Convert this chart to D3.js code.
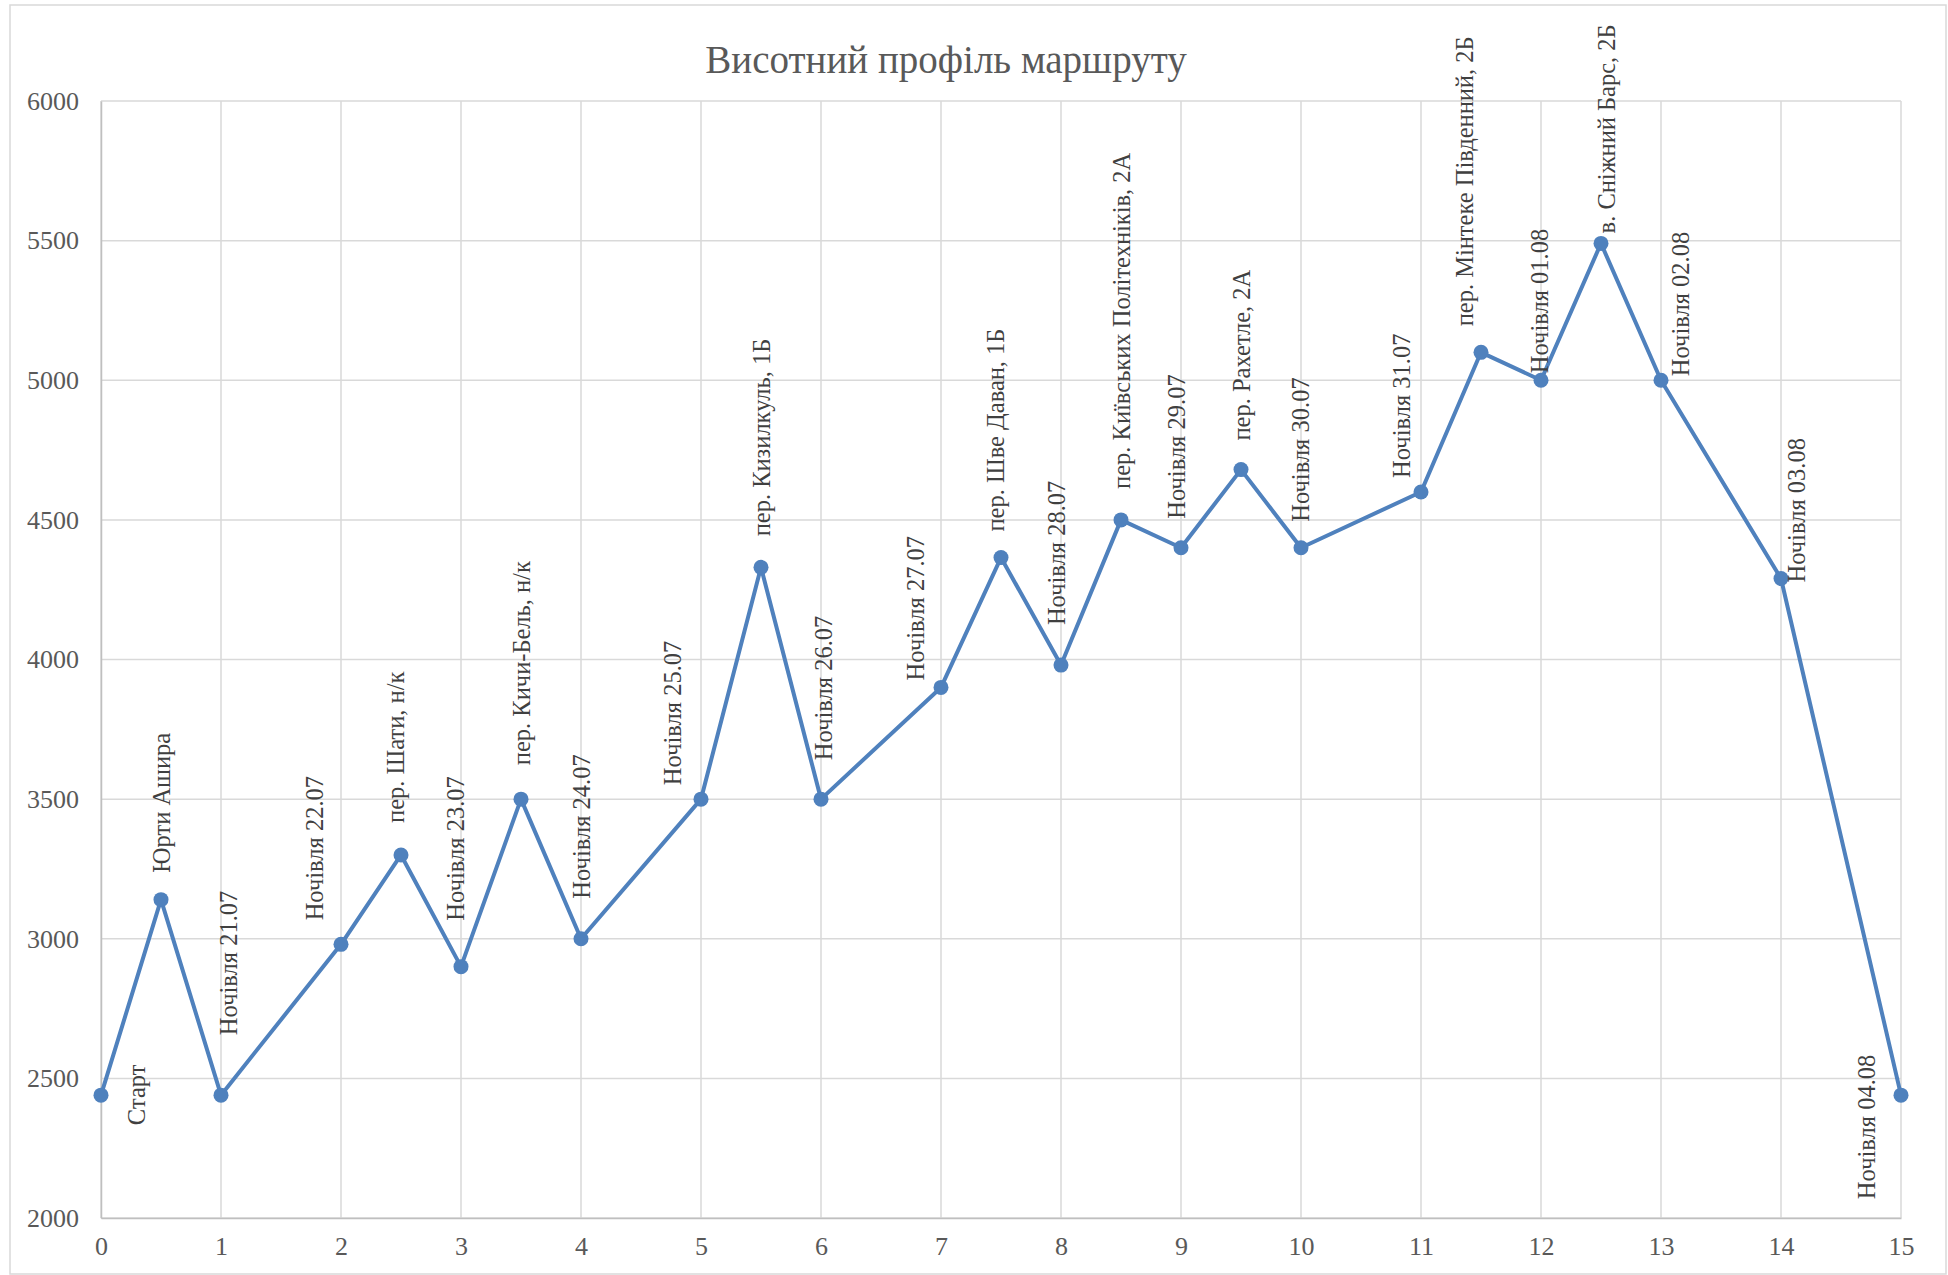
<!DOCTYPE html>
<html>
<head>
<meta charset="utf-8">
<script src="https://cdn.jsdelivr.net/npm/d3@7"></script>
<style>
  body { margin: 0; background: #fff; }
  svg text { font-family: 'Liberation Serif', 'DejaVu Serif', serif; }
</style>
</head>
<body>
<svg id="chart"></svg>
<script>
// route profile data
const dayPos = [0, 0.5, 1, 2, 2.5, 3, 3.5, 4, 5, 5.5, 6, 7, 7.5, 8, 8.5, 9, 9.5, 10, 11, 11.5, 12, 12.5, 13, 14, 15]
const altitude = [2440, 3140, 2440, 2980, 3300, 2900, 3500, 3000, 3500, 4330, 3500, 3900, 4365, 3980, 4500, 4400, 4680, 4400, 4600, 5100, 5000, 5490, 5000, 4290, 2440]
const pointNames = [
  'Старт', 'Юрти Ашира', 'Ночівля 21.07', 'Ночівля 22.07', 'пер. Шати, н/к',
  'Ночівля 23.07', 'пер. Кичи-Бель, н/к', 'Ночівля 24.07', 'Ночівля 25.07',
  'пер. Кизилкуль, 1Б', 'Ночівля 26.07', 'Ночівля 27.07', 'пер. Шве Даван, 1Б',
  'Ночівля 28.07', 'пер. Київських Політехніків, 2А', 'Ночівля 29.07',
  'пер. Рахетле, 2А', 'Ночівля 30.07', 'Ночівля 31.07', 'пер. Мінтеке Південний, 2Б',
  'Ночівля 01.08', 'в. Сніжний Барс, 2Б', 'Ночівля 02.08', 'Ночівля 03.08', 'Ночівля 04.08'
]
const xTicks = d3.range(0, 16)
const yTicks = [2000, 2500, 3000, 3500, 4000, 4500, 5000, 5500, 6000]
const title = 'Висотний профіль маршруту'

// label nudges (dx, gap above point), hand placed like in the original sheet
const labelNudge = [
  [35, -30], [0, 27], [7, 60], [-27, 24], [-6, 32], [-6, 46], [0, 34], [0, 40],
  [-29, 14], [0, 31], [2, 39], [-26, 7], [-6, 26], [-5, 40], [0, 31], [-5, 29],
  [0, 29], [-1, 26], [-20, 14], [-17, 26], [-2, 7], [5, 10], [19, 4], [15, -4], [-35, -104]
]

var width = 1948,
  height = 1275,
  margin = { top: 101, right: 47, bottom: 57, left: 101 }

var svg = d3.select('#chart').attr('width', width).attr('height', height)

svg.append('rect')
  .attr('x', 10).attr('y', 5)
  .attr('width', width - 12).attr('height', height - 6)
  .attr('fill', '#fff')
  .attr('stroke', '#d9d9d9')
  .attr('stroke-width', 1.5)

var x = d3.scaleLinear().domain([0, 15]).range([margin.left, width - margin.right])
var y = d3.scaleLinear().domain([2000, 6000]).range([height - margin.bottom, margin.top])

// grid
var grid = svg.append('g')
grid.selectAll('.hgrid')
  .data(yTicks)
  .enter()
  .append('line')
  .attr('x1', x(0)).attr('x2', x(15))
  .attr('y1', d => y(d)).attr('y2', d => y(d))
  .attr('stroke', '#d9d9d9')
  .attr('stroke-width', 1.5)
grid.selectAll('.vgrid')
  .data(xTicks)
  .enter()
  .append('line')
  .attr('x1', d => x(d)).attr('x2', d => x(d))
  .attr('y1', y(2000)).attr('y2', y(6000))
  .attr('stroke', '#d9d9d9')
  .attr('stroke-width', 1.5)

// axes
var xAxis = svg.append('g')
  .attr('transform', 'translate(0,' + y(2000) + ')')
  .call(d3.axisBottom(x).tickValues(xTicks).tickSize(0).tickPadding(19).tickFormat(d3.format('d')))
var yAxis = svg.append('g')
  .attr('transform', 'translate(' + x(0) + ',0)')
  .call(d3.axisLeft(y).tickValues(yTicks).tickSize(0).tickPadding(22).tickFormat(d3.format('d')))

xAxis.select('.domain').attr('stroke', '#bfbfbf').attr('stroke-width', 1.5)
yAxis.select('.domain').attr('stroke', '#bfbfbf').attr('stroke-width', 1.5)
svg.selectAll('.tick text')
  .attr('fill', '#595959')
  .style('font-size', '26px')
  .style('font-family', "'Liberation Serif', serif")

// title
svg.append('text')
  .attr('x', 946)
  .attr('y', 73)
  .attr('text-anchor', 'middle')
  .attr('fill', '#595959')
  .style('font-size', '39px')
  .text(title)

// line + markers
var pts = dayPos.map((d, i) => ({ x: d, y: altitude[i], name: pointNames[i], nudge: labelNudge[i] }))

var line = d3.line().x(d => x(d.x)).y(d => y(d.y))

svg.append('path')
  .datum(pts)
  .attr('d', line)
  .attr('fill', 'none')
  .attr('stroke', '#4f81bd')
  .attr('stroke-width', 4)
  .attr('stroke-linejoin', 'round')

svg.selectAll('.dot')
  .data(pts)
  .enter()
  .append('circle')
  .attr('cx', d => x(d.x))
  .attr('cy', d => y(d.y))
  .attr('r', 7.5)
  .attr('fill', '#4f81bd')

// rotated data labels
svg.selectAll('.lbl')
  .data(pts)
  .enter()
  .append('text')
  .attr('transform', function(d) {
    var lx = x(d.x) + d.nudge[0],
      ly = y(d.y) - d.nudge[1]
    return 'translate(' + lx + ',' + ly + ') rotate(-90)'
  })
  .attr('dominant-baseline', 'central')
  .attr('fill', '#404040')
  .style('font-size', '24.5px')
  .text(d => d.name)
</script>
</body>
</html>
